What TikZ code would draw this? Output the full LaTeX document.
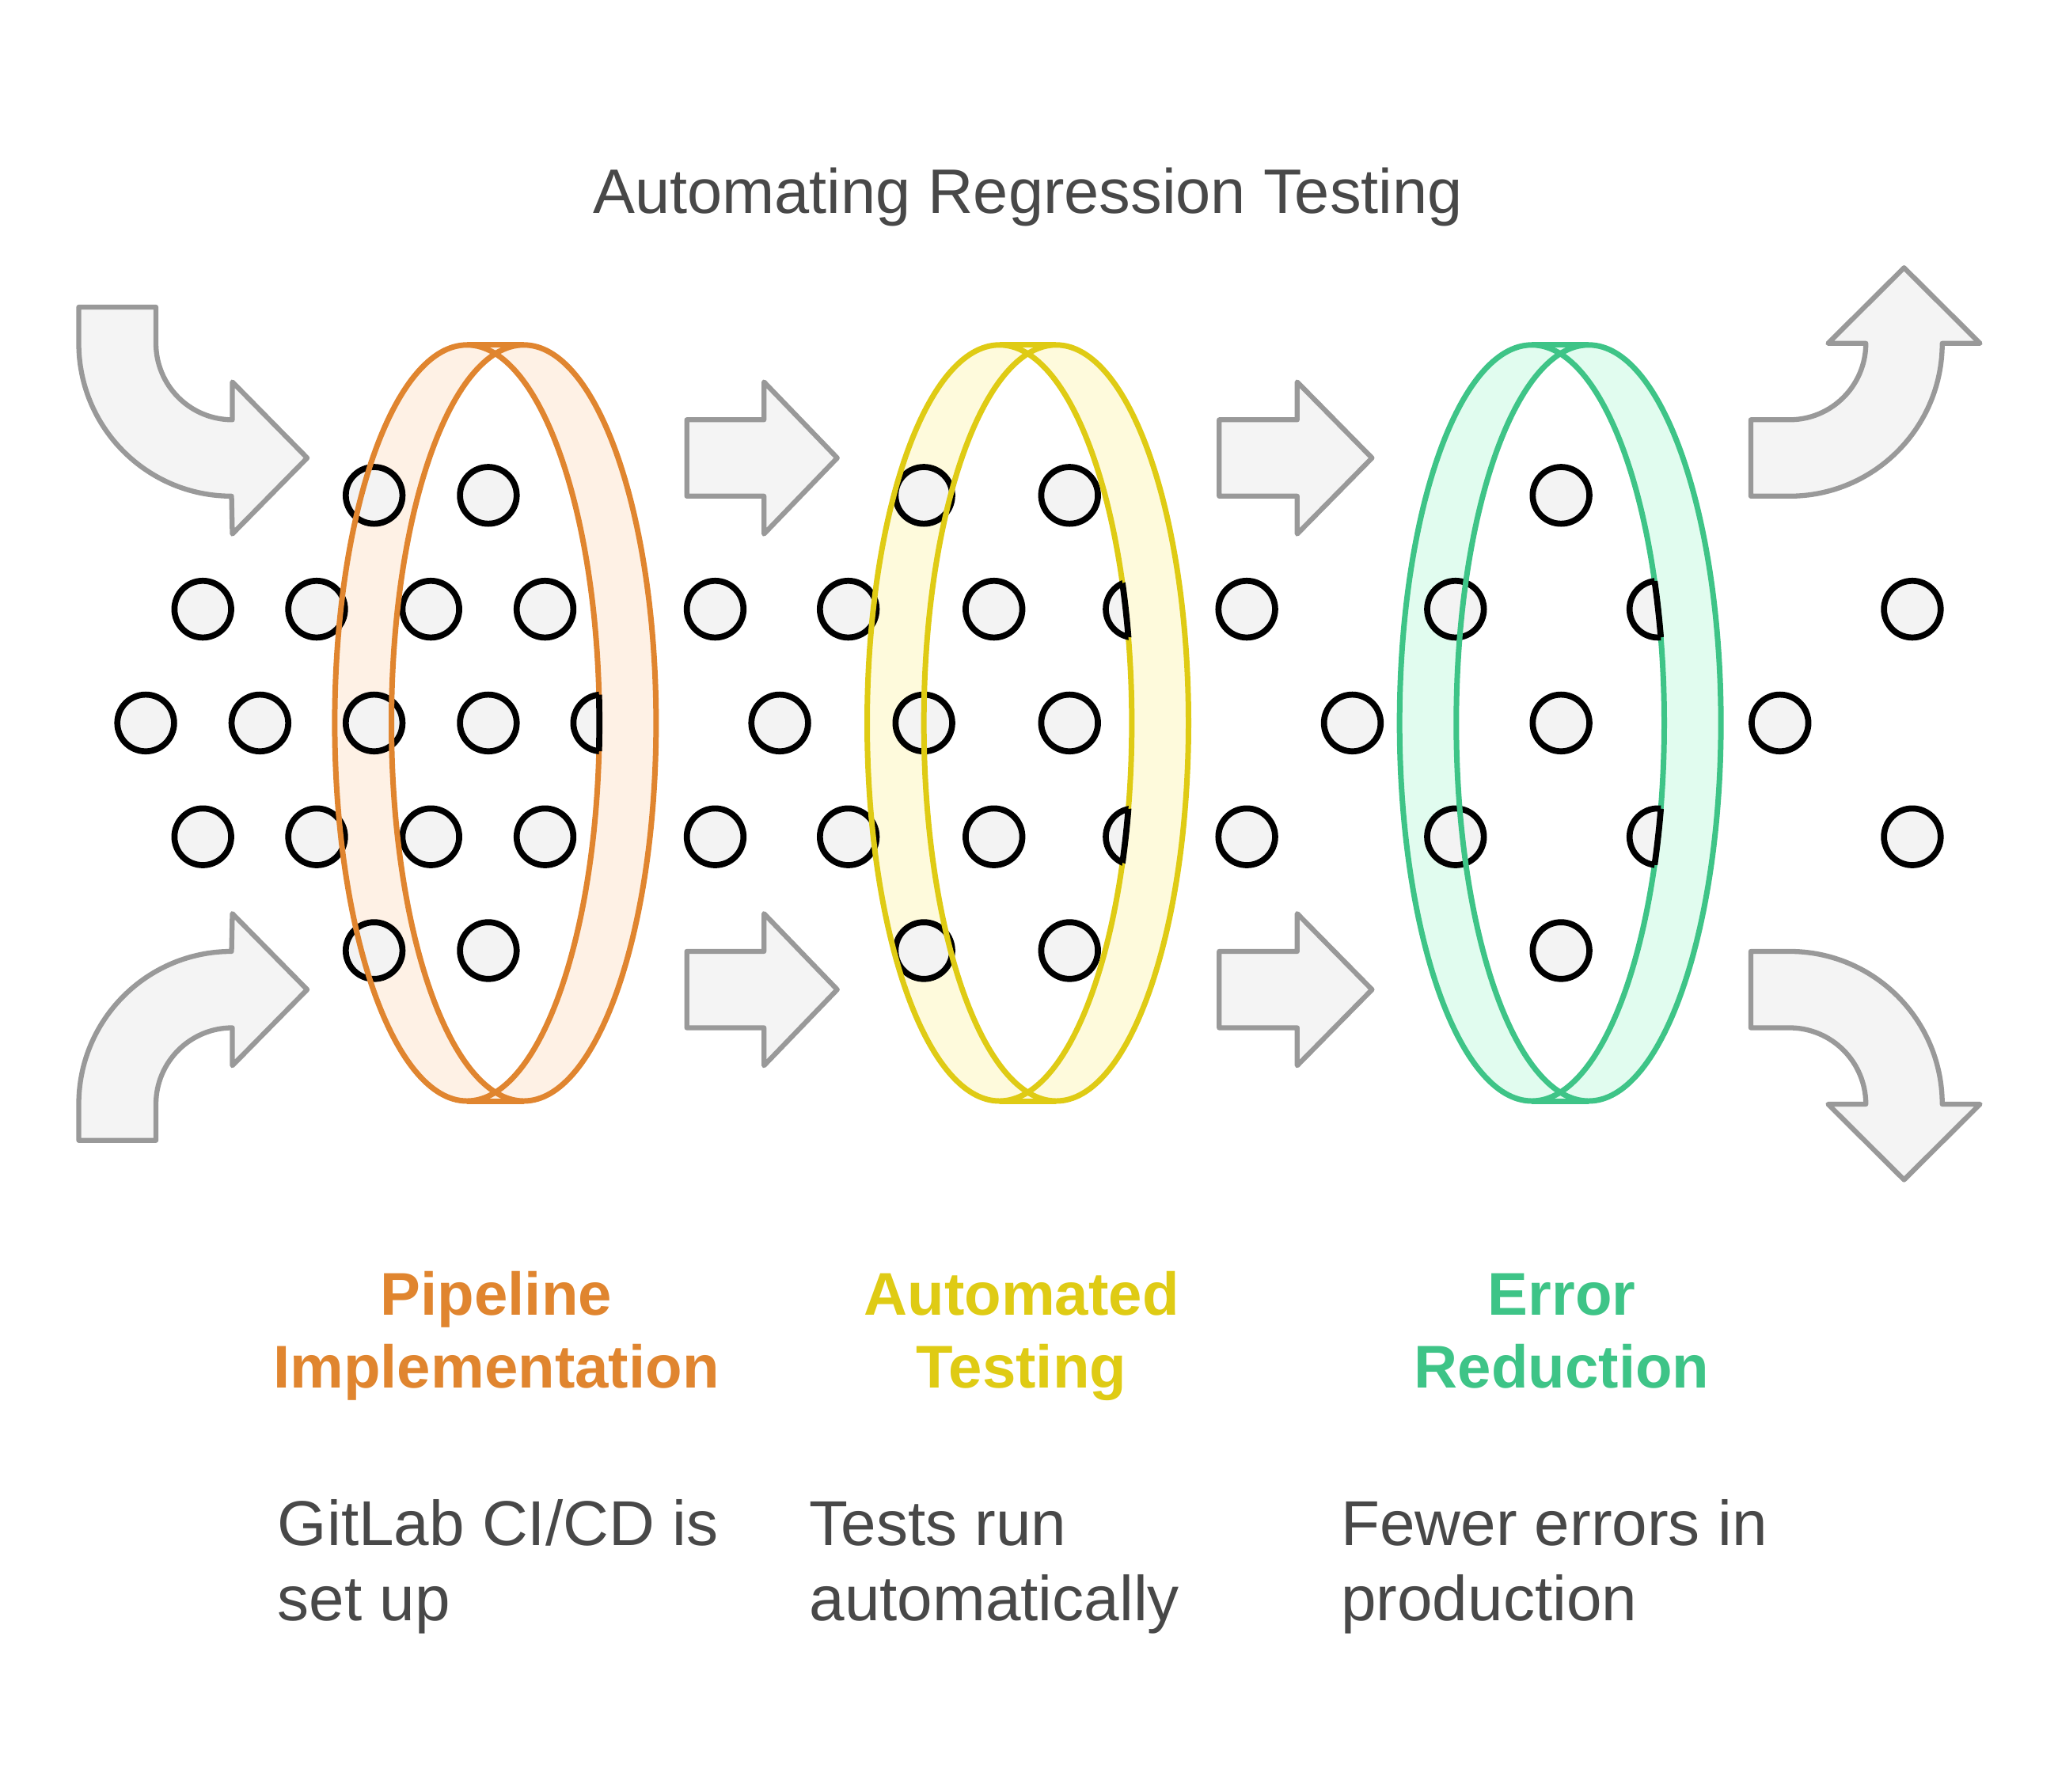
\documentclass[tikz,border=0pt]{standalone}
\usepackage{fontspec}
\setmainfont{Liberation Sans}
\usepackage{xcolor}
\usepackage{tikz}
\definecolor{pipeorange}{HTML}{E0852F}
\definecolor{pipefill}{HTML}{FEF1E5}
\definecolor{testyellow}{HTML}{DFCB14}
\definecolor{testfill}{HTML}{FEFADC}
\definecolor{errgreen}{HTML}{3EC487}
\definecolor{errfill}{HTML}{E1FCEF}
\definecolor{arrowgray}{HTML}{999999}
\definecolor{arrowfill}{HTML}{F4F4F4}
\definecolor{dotgray}{HTML}{F3F3F3}
\definecolor{textgray}{HTML}{484848}
\tikzset{
  dot/.style={fill=dotgray,draw=black,line width=2.2pt},
  flowarrow/.style={fill=arrowfill,draw=arrowgray,line width=1.8pt,line join=round},
  ringline/.style={line width=2pt},
  heading/.style={anchor=base,inner sep=0pt,font=\bfseries\fontsize{21.8}{26}\selectfont},
  bodytext/.style={anchor=base west,inner sep=0pt,text=textgray,font=\fontsize{22.9}{27}\selectfont}
}

\begin{document}
\begin{tikzpicture}
\useasboundingbox (0,-0.11) rectangle (26.13,22.64);

% title
\node[anchor=base,inner sep=0pt,text=textgray,font=\fontsize{22.7}{27}\selectfont] (title) at (13.05,19.93) {Automating Regression Testing};

% arrows in
\filldraw[flowarrow] (1.0,18.74) -- (1.0,18.28) arc[start angle=180,end angle=270,radius=1.94] -- (2.95,15.86) -- (3.90,16.825) -- (2.95,17.79) -- (2.95,17.31) arc[start angle=270,end angle=180,radius=0.97] -- (1.98,18.74) -- cycle;
\filldraw[flowarrow] (1.0,8.16) -- (1.0,8.62) arc[start angle=180,end angle=90,radius=1.94] -- (2.95,11.04) -- (3.90,10.075) -- (2.95,9.11) -- (2.95,9.59) arc[start angle=90,end angle=180,radius=0.97] -- (1.98,8.16) -- cycle;

% arrows between the rings
\filldraw[flowarrow] (8.72,16.34) -- (9.70,16.34) -- (9.70,15.86) -- (10.63,16.825) -- (9.70,17.79) -- (9.70,17.31) -- (8.72,17.31) -- cycle;
\filldraw[flowarrow] (8.72,10.56) -- (9.70,10.56) -- (9.70,11.04) -- (10.63,10.075) -- (9.70,9.11) -- (9.70,9.59) -- (8.72,9.59) -- cycle;
\filldraw[flowarrow] (15.48,16.34) -- (16.47,16.34) -- (16.47,15.86) -- (17.42,16.825) -- (16.47,17.79) -- (16.47,17.31) -- (15.48,17.31) -- cycle;
\filldraw[flowarrow] (15.48,10.56) -- (16.47,10.56) -- (16.47,11.04) -- (17.42,10.075) -- (16.47,9.11) -- (16.47,9.59) -- (15.48,9.59) -- cycle;

% arrows out
\filldraw[flowarrow] (22.23,16.34) -- (22.72,16.34) arc[start angle=-90,end angle=0,radius=1.94] -- (25.14,18.28) -- (24.175,19.24) -- (23.21,18.28) -- (23.69,18.28) arc[start angle=0,end angle=-90,radius=0.97] -- (22.23,17.31) -- cycle;
\filldraw[flowarrow] (22.23,10.56) -- (22.72,10.56) arc[start angle=90,end angle=0,radius=1.94] -- (25.14,8.62) -- (24.175,7.66) -- (23.21,8.62) -- (23.69,8.62) arc[start angle=0,end angle=90,radius=0.97] -- (22.23,9.59) -- cycle;

% ring fills
\fill[pipefill] (5.93,13.46) ellipse (1.68 and 4.8);
\fill[pipefill] (6.65,13.46) ellipse (1.68 and 4.8);
\fill[pipefill] (5.93,8.66) rectangle (6.65,18.26);
\begin{scope}
\clip (5.93,13.46) ellipse (1.68 and 4.8);
\fill[white] (6.65,13.46) ellipse (1.68 and 4.8);
\end{scope}
\fill[testfill] (12.69,13.46) ellipse (1.68 and 4.8);
\fill[testfill] (13.41,13.46) ellipse (1.68 and 4.8);
\fill[testfill] (12.69,8.66) rectangle (13.41,18.26);
\begin{scope}
\clip (12.69,13.46) ellipse (1.68 and 4.8);
\fill[white] (13.41,13.46) ellipse (1.68 and 4.8);
\end{scope}
\fill[errfill] (19.45,13.46) ellipse (1.68 and 4.8);
\fill[errfill] (20.17,13.46) ellipse (1.68 and 4.8);
\fill[errfill] (19.45,8.66) rectangle (20.17,18.26);
\begin{scope}
\clip (19.45,13.46) ellipse (1.68 and 4.8);
\fill[white] (20.17,13.46) ellipse (1.68 and 4.8);
\end{scope}

% dots, first group
\filldraw[dot] (4.75,16.35) circle (0.36);
\filldraw[dot] (6.20,16.35) circle (0.36);
\filldraw[dot] (2.575,14.905) circle (0.36);
\filldraw[dot] (4.02,14.905) circle (0.36);
\filldraw[dot] (5.47,14.905) circle (0.36);
\filldraw[dot] (6.92,14.905) circle (0.36);
\filldraw[dot] (1.85,13.46) circle (0.36);
\filldraw[dot] (3.30,13.46) circle (0.36);
\filldraw[dot] (4.75,13.46) circle (0.36);
\filldraw[dot] (6.20,13.46) circle (0.36);
\filldraw[dot] (2.575,12.015) circle (0.36);
\filldraw[dot] (4.02,12.015) circle (0.36);
\filldraw[dot] (5.47,12.015) circle (0.36);
\filldraw[dot] (6.92,12.015) circle (0.36);
\filldraw[dot] (4.75,10.57) circle (0.36);
\filldraw[dot] (6.20,10.57) circle (0.36);
% dots, second group
\filldraw[dot] (9.08,14.905) circle (0.36);
\filldraw[dot] (10.77,14.905) circle (0.36);
\filldraw[dot] (9.90,13.46) circle (0.36);
\filldraw[dot] (9.08,12.015) circle (0.36);
\filldraw[dot] (10.77,12.015) circle (0.36);
\filldraw[dot] (11.73,16.35) circle (0.36);
\filldraw[dot] (13.58,16.35) circle (0.36);
\filldraw[dot] (12.62,14.905) circle (0.36);
\filldraw[dot] (11.73,13.46) circle (0.36);
\filldraw[dot] (13.58,13.46) circle (0.36);
\filldraw[dot] (12.62,12.015) circle (0.36);
\filldraw[dot] (11.73,10.57) circle (0.36);
\filldraw[dot] (13.58,10.57) circle (0.36);
% dots, third group
\filldraw[dot] (15.83,14.905) circle (0.36);
\filldraw[dot] (17.17,13.46) circle (0.36);
\filldraw[dot] (15.83,12.015) circle (0.36);
\filldraw[dot] (19.82,16.35) circle (0.36);
\filldraw[dot] (18.48,14.905) circle (0.36);
\filldraw[dot] (19.82,13.46) circle (0.36);
\filldraw[dot] (18.48,12.015) circle (0.36);
\filldraw[dot] (19.82,10.57) circle (0.36);
\filldraw[dot] (24.28,14.905) circle (0.36);
\filldraw[dot] (22.60,13.46) circle (0.36);
\filldraw[dot] (24.28,12.015) circle (0.36);

% ring outlines
\draw[ringline,pipeorange] (5.93,13.46) ellipse (1.68 and 4.8);
\draw[ringline,pipeorange] (6.65,13.46) ellipse (1.68 and 4.8);
\draw[ringline,pipeorange] (5.93,18.26) -- (6.65,18.26);
\draw[ringline,pipeorange] (5.93,8.66) -- (6.65,8.66);
\draw[ringline,testyellow] (12.69,13.46) ellipse (1.68 and 4.8);
\draw[ringline,testyellow] (13.41,13.46) ellipse (1.68 and 4.8);
\draw[ringline,testyellow] (12.69,18.26) -- (13.41,18.26);
\draw[ringline,testyellow] (12.69,8.66) -- (13.41,8.66);
\draw[ringline,errgreen] (19.45,13.46) ellipse (1.68 and 4.8);
\draw[ringline,errgreen] (20.17,13.46) ellipse (1.68 and 4.8);
\draw[ringline,errgreen] (19.45,18.26) -- (20.17,18.26);
\draw[ringline,errgreen] (19.45,8.66) -- (20.17,8.66);

% dots going behind the rings
\begin{scope}
\clip (5.93,13.46) ellipse (1.68 and 4.8);
\filldraw[dot] (7.64,13.46) circle (0.36);
\end{scope}
\begin{scope}
\clip (7.64,13.46) circle (0.36);
\draw[line width=2.2pt] (5.93,13.46) ellipse (1.68 and 4.8);
\end{scope}
\begin{scope}
\clip (12.69,13.46) ellipse (1.68 and 4.8);
\filldraw[dot] (14.40,14.905) circle (0.36);
\filldraw[dot] (14.40,12.015) circle (0.36);
\end{scope}
\begin{scope}
\clip (14.40,14.905) circle (0.36) (14.40,12.015) circle (0.36);
\draw[line width=2.2pt] (12.69,13.46) ellipse (1.68 and 4.8);
\end{scope}
\begin{scope}
\clip (19.45,13.46) ellipse (1.68 and 4.8);
\filldraw[dot] (21.05,14.905) circle (0.36);
\filldraw[dot] (21.05,12.015) circle (0.36);
\end{scope}
\begin{scope}
\clip (21.05,14.905) circle (0.36) (21.05,12.015) circle (0.36);
\draw[line width=2.2pt] (19.45,13.46) ellipse (1.68 and 4.8);
\end{scope}

% headings
\node[heading,text=pipeorange] (pipeA) at (6.30,5.94) {Pipeline};
\node[heading,text=pipeorange] (pipeB) at (6.30,5.02) {Implementation};
\node[heading,text=testyellow] (testA) at (12.97,5.94) {Automated};
\node[heading,text=testyellow] (testB) at (12.97,5.02) {Testing};
\node[heading,text=errgreen] (errA) at (19.83,5.94) {Error};
\node[heading,text=errgreen] (errB) at (19.83,5.02) {Reduction};

% descriptions
\node[bodytext] (pipeC) at (3.52,3.02) {GitLab CI/CD is};
\node[bodytext] (pipeD) at (3.52,2.06) {set up};
\node[bodytext] (testC) at (10.27,3.02) {Tests run};
\node[bodytext] (testD) at (10.27,2.06) {automatically};
\node[bodytext] (errC) at (17.02,3.02) {Fewer errors in};
\node[bodytext] (errD) at (17.02,2.06) {production};
\end{tikzpicture}
\end{document}
